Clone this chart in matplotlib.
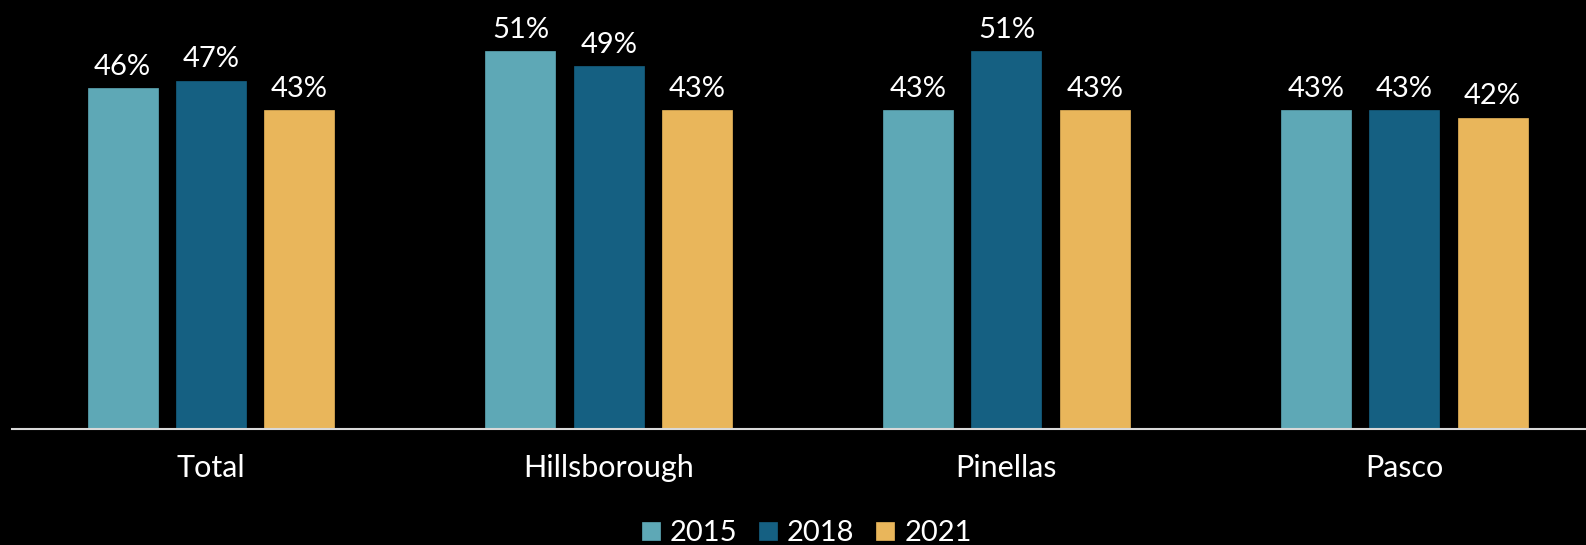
import numpy as np
from matplotlib import pyplot as plt

# Donnees du graphique :
categories = ["Total", "Hillsborough", "Pinellas", "Pasco"]
years = ["2015", "2018", "2021"]
v2015 = [46, 51, 43, 43]
v2018 = [47, 49, 51, 43]
v2021 = [43, 43, 43, 42]
colors = ["#5EA8B6", "#156082", "#E9B65B"]


def main() -> int:
    plt.rcParams['font.family'] = ['Lato', 'DejaVu Sans']
    fig = plt.figure(figsize=(15.86, 5.45), dpi=100, facecolor="black")
    ax = fig.add_axes([0.0076, 0.2134, 0.9924, 0.7866])
    ax.set_facecolor("black")

    x = np.arange(len(categories))
    step = 0.222
    width = 0.176
    series = [v2015, v2018, v2021]
    for i, vals in enumerate(series):
        pos = x + (i - 1) * step
        bars = ax.bar(pos, vals, width, color=colors[i], label=years[i],
                      edgecolor=colors[i], linewidth=0.5)
        for b, v in zip(bars, vals):
            ax.annotate(f"{v}%", (b.get_x() + b.get_width() / 2, v),
                        xytext=(0, 6), textcoords="offset points",
                        ha="center", va="bottom", color="white",
                        fontsize=21)

    ax.set_xlim(-0.5, 3.457)
    ax.set_ylim(0, 57.9)
    for s in ["top", "right", "left"]:
        ax.spines[s].set_visible(False)
    ax.spines["bottom"].set_color("#D9D9D9")
    ax.spines["bottom"].set_linewidth(1.5)
    ax.set_yticks([])
    ax.set_xticks(x)
    ax.set_xticklabels(categories, color="white", fontsize=22)
    ax.tick_params(axis="x", length=0, pad=18)

    leg = ax.legend(loc="lower center", bbox_to_anchor=(0.505, -0.335),
                    ncol=3, frameon=False, fontsize=21, handlelength=0.6,
                    handleheight=0.6, handletextpad=0.35, columnspacing=0.75)
    for t in leg.get_texts():
        t.set_color("white")

    fig.savefig("out.png", facecolor="black")
    return 0


if __name__ == "__main__":
    main()
